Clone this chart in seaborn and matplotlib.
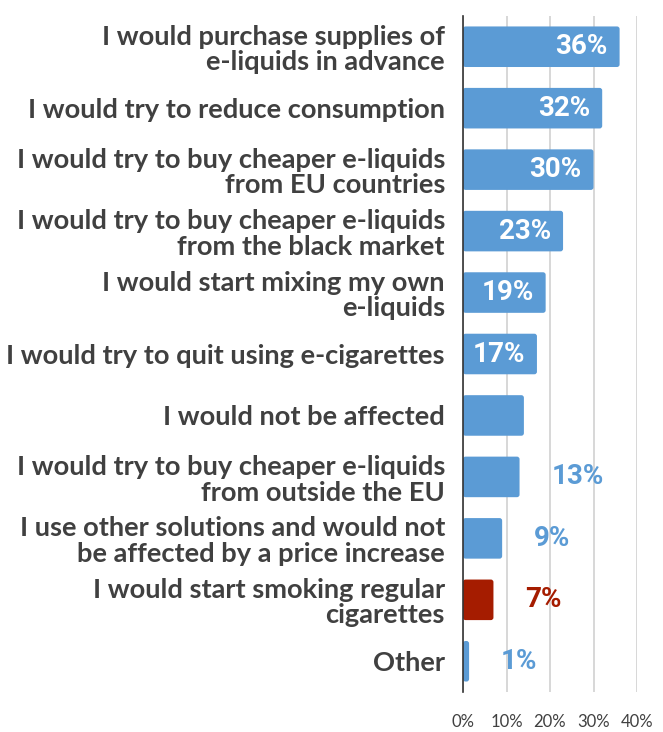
import matplotlib
matplotlib.use("Agg")
import matplotlib.pyplot as plt
import seaborn as sns
import pandas as pd
from matplotlib.patches import FancyBboxPatch

categories = [
    "I would purchase supplies of\ne-liquids in advance",
    "I would try to reduce consumption",
    "I would try to buy cheaper e-liquids\nfrom EU countries",
    "I would try to buy cheaper e-liquids\nfrom the black market",
    "I would start mixing my own\ne-liquids",
    "I would try to quit using e-cigarettes",
    "I would not be affected",
    "I would try to buy cheaper e-liquids\nfrom outside the EU",
    "I use other solutions and would not\nbe affected by a price increase",
    "I would start smoking regular\ncigarettes",
    "Other",
]
values = [36, 32, 30, 23, 19, 17, 14, 13, 9, 7, 1.4]
labels = ["36%", "32%", "30%", "23%", "19%", "17%", "", "13%", "9%", "7%", "1%"]
label_inside = [True, True, True, True, True, True, False, False, False, False, False]

BLUE = "#5B9BD5"
RED = "#A51C00"
colors = [BLUE] * 9 + [RED, BLUE]

df = pd.DataFrame({"category": categories, "value": values})

sns.set_theme(style="white")
plt.rcParams["font.family"] = ["Lato", "DejaVu Sans"]

fig = plt.figure(figsize=(6.63, 7.32), dpi=100)
ax = fig.add_axes([463 / 663, 1 - 692 / 732, (637 - 463) / 663, (692 - 16) / 732])

sns.barplot(data=df, x="value", y="category", orient="h", hue="category",
            palette=colors, legend=False, width=0.66, ax=ax, saturation=1)

# rounded bar corners
for p in list(ax.patches):
    x0, y0 = p.get_x(), p.get_y()
    w, h = p.get_width(), p.get_height()
    fc = p.get_facecolor()
    p.remove()
    r = 0.6
    ax.add_patch(FancyBboxPatch((x0, y0), w, h,
                                boxstyle=f"round,pad=0,rounding_size={min(r, w / 2)}",
                                mutation_aspect=0.07, facecolor=fc, edgecolor="none",
                                zorder=3))

ax.set_xlim(0, 40)
ax.set_ylim(len(categories) - 0.5, -0.5)
ax.set_xticks([0, 10, 20, 30, 40])
ax.set_xticklabels(["0%", "10%", "20%", "30%", "40%"], fontsize=12, color="#404040",
                   fontfamily="Lato")
ax.xaxis.grid(True, color="#D4D4D4", linewidth=1.3, zorder=0)
ax.set_axisbelow(True)
for s in ["top", "right", "bottom"]:
    ax.spines[s].set_visible(False)
ax.spines["left"].set_color("#333333")
ax.spines["left"].set_linewidth(1.2)
ax.spines["left"].set_zorder(4)
ax.set_xlabel("")
ax.set_ylabel("")
ax.tick_params(axis="x", length=0, pad=16)
ax.tick_params(axis="y", length=0, pad=13)
for t in ax.get_yticklabels():
    t.set_fontsize(19.6)
    t.set_fontweight("bold")
    t.set_color("#404040")
    t.set_linespacing(1.08)
    t.set_fontfamily("Lato")

for i, (v, lab, inside) in enumerate(zip(values, labels, label_inside)):
    if not lab:
        continue
    if inside:
        ax.text(v - 2.7, i, lab, ha="right", va="center", color="white",
                fontsize=20, fontweight="bold", fontfamily="Roboto", zorder=5)
    else:
        ax.text(v + 7.3, i, lab, ha="left", va="center", color=colors[i],
                fontsize=20, fontweight="bold", fontfamily="Roboto", zorder=5)

fig.savefig("out.png", dpi=100)
